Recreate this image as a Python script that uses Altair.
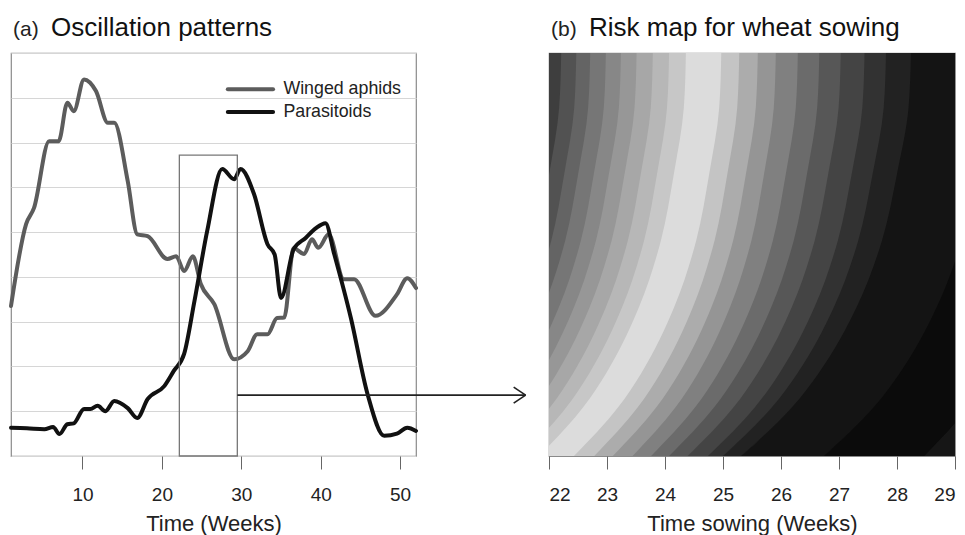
import altair as alt
import pandas as pd

FONT = "Liberation Sans"

# ---------------- panel (a): oscillation patterns ----------------
aphid_weeks = [1, 2.9, 3.9, 5.8, 7.0, 8.1, 8.9, 10.2, 11.7, 13.2, 14.0, 15.7, 16.9, 18.2,
               20.7, 21.8, 22.8, 23.9, 24.9, 26.6, 29.1, 30.8, 32.0, 33.3, 34.5, 35.4,
               36.6, 37.9, 38.9, 39.7, 41.0, 42.9, 44.2, 46.9, 49.6, 50.9, 52]
aphid_vals = [3.35, 5.18, 5.54, 7.03, 7.03, 7.89, 7.70, 8.41, 8.15, 7.44, 7.44, 6.14, 4.95, 4.91,
              4.40, 4.46, 4.13, 4.46, 3.84, 3.39, 2.16, 2.34, 2.72, 2.72, 3.08, 3.09,
              4.64, 4.51, 4.84, 4.65, 4.95, 3.95, 3.95, 3.13, 3.61, 3.97, 3.75]

para_weeks = [1, 3.0, 5.2, 6.3, 7.1, 8.1, 8.9, 10.2, 11.0, 11.9, 12.9, 14.0, 15.7, 16.9,
              18.2, 20.3, 21.5, 22.8, 24.1, 25.7, 27.6, 29.1, 29.9, 31.6, 33.3, 34.2,
              35.0, 36.6, 38.1, 39.4, 40.6, 41.7, 43.8, 45.9, 48.0, 49.6, 50.9, 52]
para_vals = [0.63, 0.62, 0.60, 0.65, 0.49, 0.71, 0.73, 1.05, 1.05, 1.12, 1.00, 1.23, 1.07, 0.85,
             1.27, 1.56, 1.90, 2.28, 3.46, 5.02, 6.41, 6.18, 6.41, 5.85, 4.73, 4.50,
             3.53, 4.62, 4.87, 5.09, 5.20, 4.51, 3.08, 1.38, 0.45, 0.50, 0.63, 0.56]

series_names = ["Winged aphids", "Parasitoids"]
series_colors = ["#5c5c5c", "#111111"]

grid_levels = list(range(0, 10))
week_ticks = [10, 20, 30, 40, 50]

box_weeks = [22.2, 29.5]
box_levels = [0, 6.72]

arrow_weeks = [29.5, 65.8]
arrow_level = 1.36
arrow_head_back = 64.3
arrow_head_half = 0.18

legend_line_weeks = [28.3, 34.0]
legend_levels = [8.19, 7.68]
legend_text_week = 35.3

# ---------------- panel (b): risk map ----------------
sow_ticks = [22, 23, 24, 25, 26, 27, 28, 29]
# band boundaries (weeks) on the top row and on the bottom row, left to right
bound_top = [22.21, 22.47, 22.71, 22.98, 23.24, 23.51, 23.79, 24.07, 24.36, 24.97,
             25.28, 25.60, 25.91, 26.29, 26.66, 27.03, 27.44, 27.81, 28.24, 29.6, 31.0]
bound_bottom = [19.68, 19.94, 20.18, 20.45, 20.71, 20.98, 21.26, 21.54, 21.83, 22.43,
                22.78, 23.10, 23.44, 23.76, 24.07, 24.39, 24.74, 25.00, 25.31, 26.74, 28.47]
# shape of a boundary from top (0) to bottom (1), read on the lightest band
profile_levels = [0.0, 0.121, 0.205, 0.369, 0.535, 0.70, 0.864, 1.0]
profile_shift = [1.0, 0.70, 0.544, 0.32, 0.17, 0.082, 0.014, 0.0]
band_colors = ["#3e3e3e", "#525252", "#646464", "#767676", "#878787", "#979797", "#a7a7a7",
               "#b7b7b7", "#c7c7c7", "#dcdcdc", "#c4c4c4", "#acacac", "#959595", "#808080",
               "#6b6b6b", "#575757", "#444444", "#323232", "#222222", "#141414", "#0b0b0b",
               "#161616"]

# ---------------- build tables ----------------
lines_df = pd.concat([
    pd.DataFrame({"week": aphid_weeks, "value": aphid_vals, "series": series_names[0]}),
    pd.DataFrame({"week": para_weeks, "value": para_vals, "series": series_names[1]}),
])

x_scale_a = alt.Scale(domain=[1, 52], nice=False, zero=False)
y_scale_a = alt.Scale(domain=[0, 9], nice=False, zero=False)
color_scale = alt.Scale(domain=series_names, range=series_colors)

x_axis_a = alt.Axis(values=week_ticks, format="d", title="Time (Weeks)", grid=False, domain=False)
y_axis_a = alt.Axis(values=grid_levels, grid=True, labels=False, ticks=False, domain=False,
                    title=None, gridColor="#d6d6d6", gridWidth=1)

lines = alt.Chart(lines_df).mark_line(strokeWidth=4, interpolate="monotone",
                                       strokeJoin="round", strokeCap="round").encode(
    x=alt.X("week:Q", scale=x_scale_a, axis=x_axis_a),
    y=alt.Y("value:Q", scale=y_scale_a, axis=y_axis_a),
    color=alt.Color("series:N", scale=color_scale, legend=None),
)

box_df = pd.DataFrame({"x": [box_weeks[0]], "x2": [box_weeks[1]],
                       "y": [box_levels[0]], "y2": [box_levels[1]]})
box = alt.Chart(box_df).mark_rect(fillOpacity=0, stroke="#777777", strokeWidth=1.3).encode(
    x="x:Q", x2="x2:Q", y="y:Q", y2="y2:Q")

arrow_df = pd.DataFrame({"x": [arrow_weeks[0]], "x2": [arrow_weeks[1]], "y": [arrow_level]})
arrow = alt.Chart(arrow_df).mark_rule(color="#222222", strokeWidth=1.6, clip=False).encode(
    x="x:Q", x2="x2:Q", y="y:Q")
head_df = pd.DataFrame({"x": [arrow_weeks[1], arrow_weeks[1]],
                        "x2": [arrow_head_back, arrow_head_back],
                        "y": [arrow_level, arrow_level],
                        "y2": [arrow_level + arrow_head_half, arrow_level - arrow_head_half]})
head = alt.Chart(head_df).mark_rule(color="#222222", strokeWidth=1.6, clip=False).encode(
    x="x:Q", x2="x2:Q", y="y:Q", y2="y2:Q")

leg_df = pd.DataFrame({"series": series_names, "x": [legend_line_weeks[0]] * 2,
                       "x2": [legend_line_weeks[1]] * 2, "y": legend_levels,
                       "tx": [legend_text_week] * 2})
leg_lines = alt.Chart(leg_df).mark_rule(strokeWidth=4, strokeCap="round").encode(
    x="x:Q", x2="x2:Q", y="y:Q", color=alt.Color("series:N", scale=color_scale, legend=None))
leg_text = alt.Chart(leg_df).mark_text(align="left", baseline="middle", fontSize=17.8,
                                       font=FONT, color="#222222").encode(
    x="tx:Q", y="y:Q", text="series:N")


def heading(tag, title):
    tag_mark = alt.Chart(pd.DataFrame({"t": [tag]})).mark_text(
        align="left", baseline="alphabetic", fontSize=21, font=FONT, color="#222222").encode(
        x=alt.value(2), y=alt.value(-17), text="t:N")
    title_mark = alt.Chart(pd.DataFrame({"t": [title]})).mark_text(
        align="left", baseline="alphabetic", fontSize=26, font=FONT, color="#111111").encode(
        x=alt.value(40), y=alt.value(-17), text="t:N")
    return [tag_mark, title_mark]


left = alt.layer(lines, box, arrow, head, leg_lines, leg_text,
                 *heading("(a)", "Oscillation patterns")).properties(width=405, height=403)

rows = []
nb = len(bound_top)
for k in range(nb + 1):
    for lv, sh in zip(profile_levels, profile_shift):
        if k == 0:
            xl = 10.0
        else:
            xl = bound_top[k - 1] + (bound_bottom[k - 1] - bound_top[k - 1]) * sh
        if k == nb:
            xr = 40.0
        else:
            xr = bound_top[k] + (bound_bottom[k] - bound_top[k]) * sh
        rows.append({"band": k, "level": lv, "x": xl, "x2": xr + 0.02})
bands_df = pd.DataFrame(rows)

bands = alt.Chart(bands_df).mark_area(orient="horizontal", interpolate="monotone",
                                      clip=True).encode(
    y=alt.Y("level:Q", scale=alt.Scale(domain=[0, 1], nice=False, zero=False), axis=None),
    x=alt.X("x:Q", scale=alt.Scale(domain=[22, 29], nice=False, zero=False), stack=None,
            axis=alt.Axis(values=sow_ticks, format="d", title="Time sowing (Weeks)",
                          grid=False, domain=False)),
    x2="x2:Q",
    color=alt.Color("band:O", scale=alt.Scale(domain=list(range(nb + 1)), range=band_colors),
                    legend=None),
    detail="band:O",
)

right = alt.layer(bands, *heading("(b)", "Risk map for wheat sowing")).properties(
    width=406, height=403)

chart = alt.hconcat(left, right, spacing=133, bounds="flush").resolve_scale(
    color="independent"
).configure_view(
    stroke="#8a8a8a", strokeWidth=1.2
).configure_axis(
    labelFont=FONT, titleFont=FONT, labelFontSize=19, titleFontSize=22,
    labelColor="#222222", titleColor="#222222", titleFontWeight="normal",
    tickColor="#666666", tickSize=13, labelPadding=16, titlePadding=9
).properties(padding={"left": 8, "top": 14, "right": 5, "bottom": 5})

chart.save("out.html", embed_options={"renderer": "svg", "actions": False})
